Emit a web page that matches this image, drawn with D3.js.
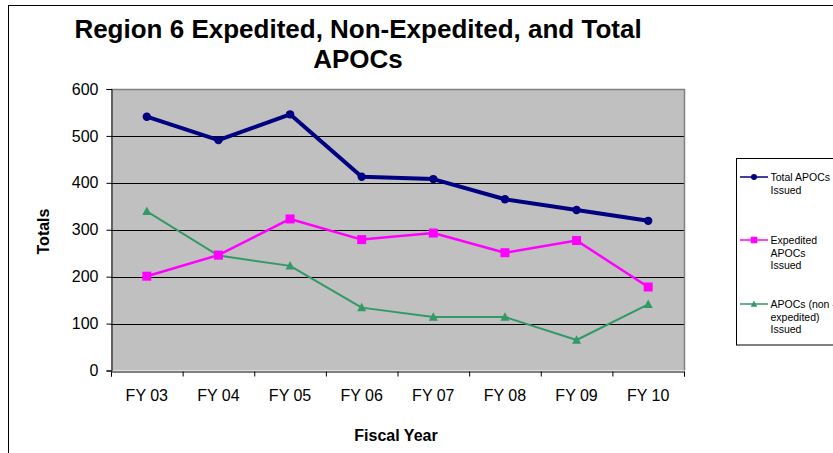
<!DOCTYPE html>
<html>
<head>
<meta charset="utf-8">
<script src="https://cdn.jsdelivr.net/npm/d3@7"></script>
<style>
  html, body { margin: 0; padding: 0; background: #fff; }
  svg { display: block; font-family: "Liberation Sans", Arial, sans-serif; }
</style>
</head>
<body>
<svg id="chart" width="833" height="453"></svg>
<script>
const categories = ["FY 03", "FY 04", "FY 05", "FY 06", "FY 07", "FY 08", "FY 09", "FY 10"];
const totalIssued = [541, 491, 546, 413, 408, 365, 342, 319];
const expeditedIssued = [201, 246, 323, 279, 293, 251, 277, 178];
const nonExpeditedIssued = [339, 245, 223, 134, 114, 114, 65, 141];
const yTicks = [0, 100, 200, 300, 400, 500, 600];
const titleLines = ["Region 6 Expedited, Non-Expedited, and Total", "APOCs"];
const xTitle = "Fiscal Year";
const yTitle = "Totals";

const series = [
  { name: ["Total APOCs", "Issued"], values: totalIssued, color: "#000080", width: 4, marker: "circle", size: 4.2, legendSize: 3 },
  { name: ["Expedited", "APOCs", "Issued"], values: expeditedIssued, color: "#FF00FF", width: 2.5, marker: "square", size: 9, legendSize: 6.5 },
  { name: ["APOCs (non -", "expedited)", "Issued"], values: nonExpeditedIssued, color: "#339966", width: 2, marker: "triangle", size: 9, legendSize: 6.5 }
];

const svg = d3.select("#chart");
const plot = { left: 111, right: 684, top: 89, bottom: 370.5 };

// outer chart border
svg.append("rect").attr("x", 8.5).attr("y", 5.5).attr("width", 900).attr("height", 500)
  .attr("fill", "#fff").attr("stroke", "#000").attr("stroke-width", 1);

const x = d3.scaleBand().domain(categories).range([plot.left, plot.right]).padding(0);
const xEdge = d3.scaleLinear().domain([0, categories.length]).range([plot.left, plot.right]);
const y = d3.scaleLinear().domain([0, 600]).range([plot.bottom, plot.top]);

// plot background
svg.append("rect").attr("x", plot.left).attr("y", plot.top)
  .attr("width", plot.right - plot.left).attr("height", plot.bottom - plot.top)
  .attr("fill", "#C0C0C0");

// gridlines
svg.append("g").selectAll("line").data(yTicks.filter(d => d > 0 && d < 600)).join("line")
  .attr("x1", plot.left).attr("x2", plot.right)
  .attr("y1", d => Math.round(y(d)) + 0.5).attr("y2", d => Math.round(y(d)) + 0.5)
  .attr("stroke", "#000").attr("stroke-width", 1);

// top and right border of plot area
svg.append("path")
  .attr("d", `M${plot.left},${Math.round(plot.top) + 0.5}H${Math.round(plot.right) + 0.5}V${plot.bottom}`)
  .attr("fill", "none").attr("stroke", "#808080").attr("stroke-width", 1.5);

// y axis
const yAxis = svg.append("g").attr("transform", `translate(${plot.left + 0.5},0)`)
  .call(d3.axisLeft(y).tickValues(yTicks).tickSize(5).tickPadding(8));
yAxis.select(".domain").attr("stroke", "#000");
yAxis.selectAll(".tick line").attr("stroke", "#000");
yAxis.selectAll(".tick text").attr("font-size", 16).attr("fill", "#000")
  .attr("font-family", "Liberation Sans, Arial, sans-serif");

// x axis tick marks at category edges
const xTickAxis = svg.append("g").attr("transform", `translate(0,${Math.round(plot.bottom) + 0.5})`)
  .call(d3.axisBottom(xEdge).tickValues(d3.range(categories.length + 1)).tickSize(5).tickFormat(""));
xTickAxis.select(".domain").attr("stroke", "#000");
xTickAxis.selectAll(".tick line").attr("stroke", "#000");

// x axis labels
const xAxis = svg.append("g").attr("transform", `translate(0,${Math.round(plot.bottom)})`)
  .call(d3.axisBottom(x).tickSize(0).tickPadding(19));
xAxis.select(".domain").remove();
xAxis.selectAll(".tick text").attr("font-size", 16).attr("fill", "#000")
  .attr("font-family", "Liberation Sans, Arial, sans-serif");

// series lines and markers
function drawMarker(g, type, cx, cy, s, color) {
  if (type === "circle") {
    g.append("circle").attr("cx", cx).attr("cy", cy).attr("r", s).attr("fill", color);
  } else if (type === "square") {
    g.append("rect").attr("x", cx - s / 2).attr("y", cy - s / 2).attr("width", s).attr("height", s).attr("fill", color);
  } else {
    const h = s * 0.9;
    g.append("path").attr("d", `M${cx},${cy - h * 0.6}L${cx + s / 2},${cy + h * 0.45}L${cx - s / 2},${cy + h * 0.45}Z`).attr("fill", color);
  }
}

const line = d3.line().x((d, i) => x(categories[i]) + x.bandwidth() / 2).y(d => y(d));
const drawOrder = [2, 1, 0];
drawOrder.forEach(k => {
  const s = series[k];
  const g = svg.append("g");
  g.append("path").datum(s.values).attr("d", line)
    .attr("fill", "none").attr("stroke", s.color).attr("stroke-width", s.width)
    .attr("stroke-linejoin", "round");
  s.values.forEach((v, i) => drawMarker(g, s.marker, x(categories[i]) + x.bandwidth() / 2, y(v), s.size, s.color));
});

// titles
const title = svg.append("text").attr("text-anchor", "middle").attr("font-weight", "bold")
  .attr("font-size", 26).attr("fill", "#000");
titleLines.forEach((t, i) => title.append("tspan").attr("x", 358).attr("y", 38 + i * 30).text(t));

svg.append("text").attr("x", 396).attr("y", 441).attr("text-anchor", "middle")
  .attr("font-weight", "bold").attr("font-size", 16).text(xTitle);

svg.append("text").attr("transform", "translate(48.5,231.5) rotate(-90)").attr("text-anchor", "middle")
  .attr("font-weight", "bold").attr("font-size", 16).text(yTitle);

// legend
const legend = svg.append("g");
legend.append("rect").attr("x", 736.5).attr("y", 158.5).attr("width", 120).attr("height", 186.5)
  .attr("fill", "#fff").attr("stroke", "#000").attr("stroke-width", 1);
const legendY = [177, 240, 304];
series.forEach((s, k) => {
  const cy = legendY[k];
  legend.append("line").attr("x1", 740).attr("x2", 768).attr("y1", cy).attr("y2", cy)
    .attr("stroke", s.color).attr("stroke-width", 1.5);
  drawMarker(legend, s.marker, 754, cy, s.legendSize, s.color);
  const t = legend.append("text").attr("font-size", 10.5).attr("fill", "#000");
  s.name.forEach((n, j) => t.append("tspan").attr("x", 770.5).attr("y", cy + 3.8 + j * 12.7).text(n));
});
</script>
</body>
</html>
